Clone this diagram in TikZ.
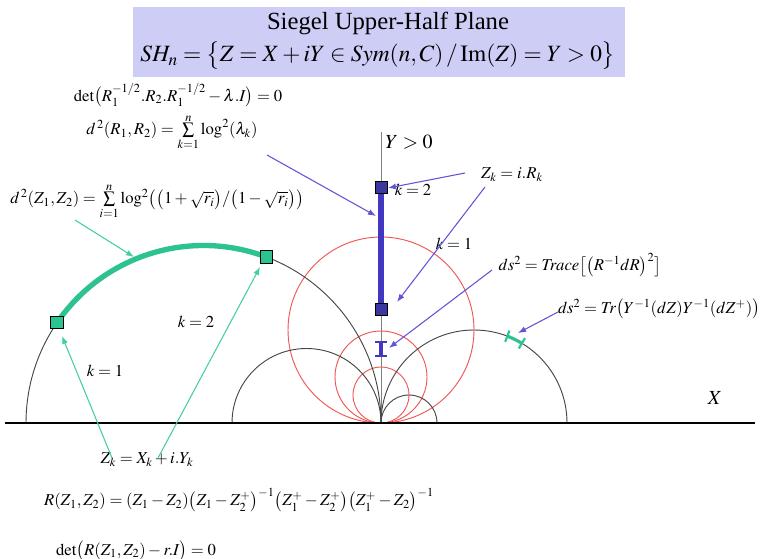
\documentclass[tikz,border=0pt]{standalone}
\usepackage{mathptmx}
\usepackage[no-math]{fontspec}
\setmainfont{Liberation Serif}
\usepackage{graphicx}
\usetikzlibrary{arrows.meta}
\definecolor{boxfill}{RGB}{205,205,245}
\definecolor{arrblue}{RGB}{95,85,215}
\definecolor{lineblue}{RGB}{65,55,195}
\definecolor{sqblue}{RGB}{60,55,160}
\definecolor{arrgreen}{RGB}{70,205,165}
\definecolor{arcgreen}{RGB}{45,195,145}
\definecolor{redc}{RGB}{240,85,85}
\definecolor{arcgray}{RGB}{70,70,70}
\newcommand{\smsum}[2]{\mathop{\sum}\limits_{\raisebox{1pt}{$\scriptstyle #1$}}^{\raisebox{-1pt}{$\scriptstyle #2$}}}
\begin{document}
\begin{tikzpicture}[x=0.75pt,y=0.75pt,
  ttl/.style={inner sep=0pt, font=\fontsize{18.5}{21}\selectfont},
  ttlm/.style={inner sep=0pt, font=\fontsize{17.5}{20}\selectfont},
  fml/.style={inner sep=0pt, font=\fontsize{12.5}{15}\selectfont},
  big/.style={inner sep=0pt, font=\fontsize{15}{18}\selectfont},
  geo/.style={arcgray, line width=0.7pt},
  redcirc/.style={redc, line width=0.7pt},
  gsq/.style={draw=black, fill=arcgreen, line width=0.6pt, minimum size=9.5pt, inner sep=0pt},
  bsq/.style={draw=black, fill=sqblue, line width=0.6pt, minimum size=9pt, inner sep=0pt},
  barr/.style={arrblue, line width=0.8pt, -{Latex[length=6pt,width=4.5pt]}},
  garr/.style={arrgreen, line width=0.8pt, -{Latex[length=6pt,width=4.5pt]}}
]
\useasboundingbox (0,0) rectangle (762,-559);
% title box
\path[fill=boxfill] (133,-7) rectangle (625,-77);
\node[ttl] (title) at (388,-23) {Siegel Upper-Half Plane};
\node[ttlm] (shn) at (378,-56) {$SH_n=\bigl\{Z=X+iY\in \mathit{Sym}(n,C)\,/\,\mathrm{Im}(Z)=Y>0\bigr\}$};

% axes
\coordinate (O) at (381,-423);
\coordinate (xl) at (5,-423);
\coordinate (xr) at (755,-423);
\coordinate (ytop) at (381,-132);
\draw[gray, line width=0.7pt] (O) -- (ytop);

% red circles
\draw[redcirc] (381,-330) circle[radius=93];
\draw[redcirc] (381,-377) circle[radius=46];
\draw[redcirc] (381,-395) circle[radius=28];

% geodesic semicircles
\draw[geo] (26,-423) arc[start angle=180,end angle=0,radius=177.5];
\draw[geo] (232,-423) arc[start angle=180,end angle=0,radius=74.5];
\draw[geo] (381,-423) arc[start angle=180,end angle=0,radius=93];
\draw[geo] (381,-423) arc[start angle=180,end angle=0,radius=28];

\draw[line width=2pt] (xl) -- (xr);

% green geodesic segment
\draw[arcgreen, line width=4pt] ([shift={(203.5,-423)}]145.5:177.5) arc[start angle=145.5,end angle=69.3,radius=177.5];
\node[gsq] (z1) at ([shift={(203.5,-423)}]145.5:177.5) {};
\node[gsq] (z2) at ([shift={(203.5,-423)}]69.3:177.5) {};

% small green element ds
\draw[arcgreen, line width=2.4pt] ([shift={(474,-423)}]59:93) arc[start angle=59,end angle=69,radius=93];
\draw[arcgreen, line width=1.6pt] ([shift={(474,-423)}]59:87) -- ([shift={(474,-423)}]59:99);
\draw[arcgreen, line width=1.6pt] ([shift={(474,-423)}]69:87) -- ([shift={(474,-423)}]69:99);

% blue vertical geodesic
\coordinate (b1c) at (381,-309);
\coordinate (b2c) at (381,-187);
\draw[lineblue, line width=4.5pt] (b1c) -- (b2c);
\node[bsq] (b1) at (b1c) {};
\node[bsq] (b2) at (b2c) {};

% small blue element
\draw[lineblue, line width=2.8pt] (381,-342) -- (381,-356);
\draw[lineblue, line width=2pt] (375,-342) -- (387,-342);
\draw[lineblue, line width=2pt] (375,-356) -- (387,-356);

% labels
\node[fml] (detR) at (178,-95) {$\det\bigl(R_1^{-1/2}.R_2.R_1^{-1/2}-\lambda.I\bigr)=0$};
\node[fml] (dR) at (172,-133) {$d^{\,2}(R_1,R_2)=\smsum{k=1}{n}\log^2(\lambda_k)$};
\node[fml] (dZ) at (157,-202) {$d^{\,2}(Z_1,Z_2)=\smsum{i=1}{n}\log^2\bigl(\bigl(1+\sqrt{r_i}\bigr)/\bigl(1-\sqrt{r_i}\bigr)\bigr)$};
\node[big] (ypos) at (409,-142) {$Y>0$};
\node[fml] (zkr) at (512,-175) {$Z_k=i.R_k$};
\node[fml] (k2r) at (413,-190) {$k=2$};
\node[fml] (k1r) at (454,-244) {$k=1$};
\node[fml] (trace) at (580,-265) {$ds^2=\mathit{Trace}\bigl[\bigl(R^{-1}dR\bigr)^2\bigr]$};
\node[fml] (tr) at (659,-309) {$ds^2=\mathit{Tr}\bigl(Y^{-1}(dZ)Y^{-1}(dZ^{+})\bigr)$};
\node[fml] (k2l) at (196,-322) {$k=2$};
\node[fml] (k1l) at (105,-371) {$k=1$};
\node[big] (xlab) at (715,-398) {$X$};
\node[fml] (zkx) at (147,-460) {$Z_k=X_k+i.Y_k$};
\node[fml] (Rz) at (239,-500) {$R(Z_1,Z_2)=(Z_1-Z_2)\bigl(Z_1-Z_2^{+}\bigr)^{-1}\bigl(Z_1^{+}-Z_2^{+}\bigr)\bigl(Z_1^{+}-Z_2\bigr)^{-1}$};
\node[fml] (detZ) at (136,-551) {$\det\bigl(R(Z_1,Z_2)-r.I\bigr)=0$};

% arrows blue
\coordinate (a1s) at (267,-155);
\coordinate (a1e) at (376,-216);
\coordinate (a2s) at (465,-173);
\coordinate (a2e) at (388,-188);
\coordinate (a3s) at (485,-187);
\coordinate (a3e) at (397,-302);
\coordinate (a4s) at (492,-270);
\coordinate (a4e) at (389,-348);
\coordinate (a5s) at (558,-312);
\coordinate (a5e) at (518,-333);
\draw[barr] (a1s) -- (a1e);
\draw[barr] (a2s) -- (a2e);
\draw[barr] (a3s) -- (a3e);
\draw[barr] (a4s) -- (a4e);
\draw[barr] (a5s) -- (a5e);

% arrows green
\coordinate (g1s) at (75,-220);
\coordinate (g1e) at (134,-257);
\coordinate (g2s) at (112,-458);
\coordinate (g2e) at (62,-336);
\coordinate (g3s) at (158,-458);
\coordinate (g3e) at (260,-267);
\draw[garr] (g1s) -- (g1e);
\draw[garr] (g2s) -- (g2e);
\draw[garr] (g3s) -- (g3e);
\end{tikzpicture}
\end{document}
